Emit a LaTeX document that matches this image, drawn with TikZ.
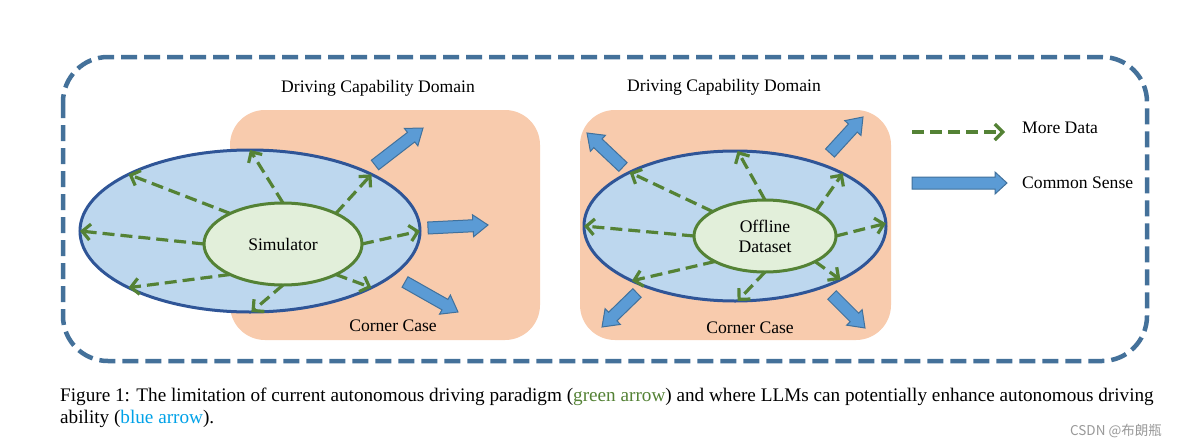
\documentclass[tikz,border=0pt]{standalone}
\usepackage{fontspec}
\setmainfont{Liberation Serif}
\newfontfamily\cjk{Noto Sans CJK SC}
\usetikzlibrary{arrows.meta,shapes.geometric,calc}
\definecolor{outerblue}{HTML}{44719A}
\definecolor{peach}{HTML}{F8CBAD}
\definecolor{ellfill}{HTML}{BDD7EE}
\definecolor{elldraw}{HTML}{2F5597}
\definecolor{smallfill}{HTML}{E2EFDA}
\definecolor{grn}{HTML}{548235}
\definecolor{arrfill}{HTML}{5B9BD5}
\definecolor{arrdraw}{HTML}{41719C}
\definecolor{capblue}{HTML}{00A2E8}
\tikzset{
  outerbox/.style={draw=outerblue, line width=4.5pt, dash pattern=on 16pt off 7pt, rounded corners=45pt},
  peachbox/.style={rectangle, fill=peach, rounded corners=35pt, inner sep=0pt, outer sep=0pt},
  bigell/.style={ellipse, draw=elldraw, fill=ellfill, line width=3pt, inner sep=0pt, outer sep=0pt},
  smallell/.style={ellipse, draw=grn, fill=smallfill, line width=3pt, inner sep=0pt, outer sep=0pt, align=center, font=\fontsize{17.6}{20}\selectfont},
  grarrow/.style={draw=grn, line width=3.2pt, dash pattern=on 12pt off 6pt, -{Straight Barb[length=8pt,width=16pt]}},
  barrow/.style={fill=arrfill, draw=arrdraw, line width=1pt, line join=miter},
  lbl/.style={font=\fontsize{17.6}{20}\selectfont, inner sep=0pt},
  captext/.style={font=\fontsize{19.2}{22}\selectfont, inner sep=0pt, anchor=base west}
}
\newcommand\blockarrow[3][15]{%
  \coordinate (hb) at ($(#3)!#1pt!(#2)$);
  \filldraw[barrow] ($(#2)!6pt!90:(#3)$) -- ($(hb)!6pt!-90:(#2)$) -- ($(hb)!11pt!-90:(#2)$) -- (#3)
    -- ($(hb)!11pt!90:(#2)$) -- ($(hb)!6pt!90:(#2)$) -- ($(#2)!6pt!-90:(#3)$) -- cycle;
}
\begin{document}
\begin{tikzpicture}[x=1pt,y=-1pt]
\useasboundingbox[fill=white] (0,0) rectangle (1178,442);

% outer dashed frame
\draw[outerbox] (63,57) rectangle (1147,361);

% peach domains
\node[peachbox, minimum width=310pt, minimum height=230pt] (lrect) at (385,225) {};
\node[peachbox, minimum width=311pt, minimum height=230pt] (rrect) at (735.5,225) {};

% big ellipses
\node[bigell, minimum width=340pt, minimum height=162pt] (lbig) at (250,231) {};
\node[bigell, minimum width=302pt, minimum height=150pt] (rbig) at (735,226) {};

% small ellipses
\node[smallell, minimum width=158pt, minimum height=82pt] (sim) at (283,244) {Simulator};
\node[smallell, minimum width=142pt, minimum height=72pt] (off) at (765,236) {Offline\\Dataset};

% green arrows, left
\foreach \a/\b in {150/155, 90/90, 30/25, 0/0, -30/-25, -90/-89, -150/-155, 180/180}
  \draw[grarrow] (sim.\a) -- (lbig.\b);
% green arrows, right
\foreach \a/\b in {155/153, 90/88, 26/26, 0/1, -27/-27, -90/-88, -153/-152, 180/180}
  \draw[grarrow] (off.\a) -- (rbig.\b);

% blue block arrows
\coordinate (la1s) at (375,165); \coordinate (la1e) at (423,128);
\coordinate (la2s) at (428,228); \coordinate (la2e) at (488,225);
\coordinate (la3s) at (405,282); \coordinate (la3e) at (458,312);
\coordinate (ra1s) at (623,167); \coordinate (ra1e) at (587,133);
\coordinate (ra2s) at (830,153); \coordinate (ra2e) at (863,117);
\coordinate (ra3s) at (637,293); \coordinate (ra3e) at (602,327);
\coordinate (ra4s) at (832,295); \coordinate (ra4e) at (865,328);
\blockarrow{la1s}{la1e}
\blockarrow{la2s}{la2e}
\blockarrow{la3s}{la3e}
\blockarrow{ra1s}{ra1e}
\blockarrow{ra2s}{ra2e}
\blockarrow{ra3s}{ra3e}
\blockarrow{ra4s}{ra4e}

% labels
\node[lbl] (ltitle) at (378,88) {Driving Capability Domain};
\node[lbl] (rtitle) at (724,87) {Driving Capability Domain};
\node[lbl] (lcorner) at (393,326) {Corner Case};
\node[lbl] (rcorner) at (750,328) {Corner Case};

% legend
\coordinate (lg1s) at (912,132); \coordinate (lg1e) at (1005,132);
\draw[grarrow] (lg1s) -- (lg1e);
\node[lbl, anchor=west] (lgt1) at (1022,128) {More Data};
\coordinate (lg2s) at (912,183); \coordinate (lg2e) at (1007,183);
\blockarrow[12]{lg2s}{lg2e}
\node[lbl, anchor=west] (lgt2) at (1022,183) {Common Sense};

% caption
\node[captext] (cap1) at (60,401) {Figure 1: The limitation of current autonomous driving paradigm (\textcolor{grn}{green arrow}) and where LLMs can potentially enhance autonomous driving};
\node[captext] (cap2) at (60,423) {ability (\textcolor{capblue}{blue arrow}).};

% watermark
\node[anchor=base east, inner sep=0pt, text=black!40, font=\cjk\fontsize{13.5}{14}\selectfont] (wm) at (1162,435) {CSDN @布朗瓶};
\end{tikzpicture}
\end{document}
